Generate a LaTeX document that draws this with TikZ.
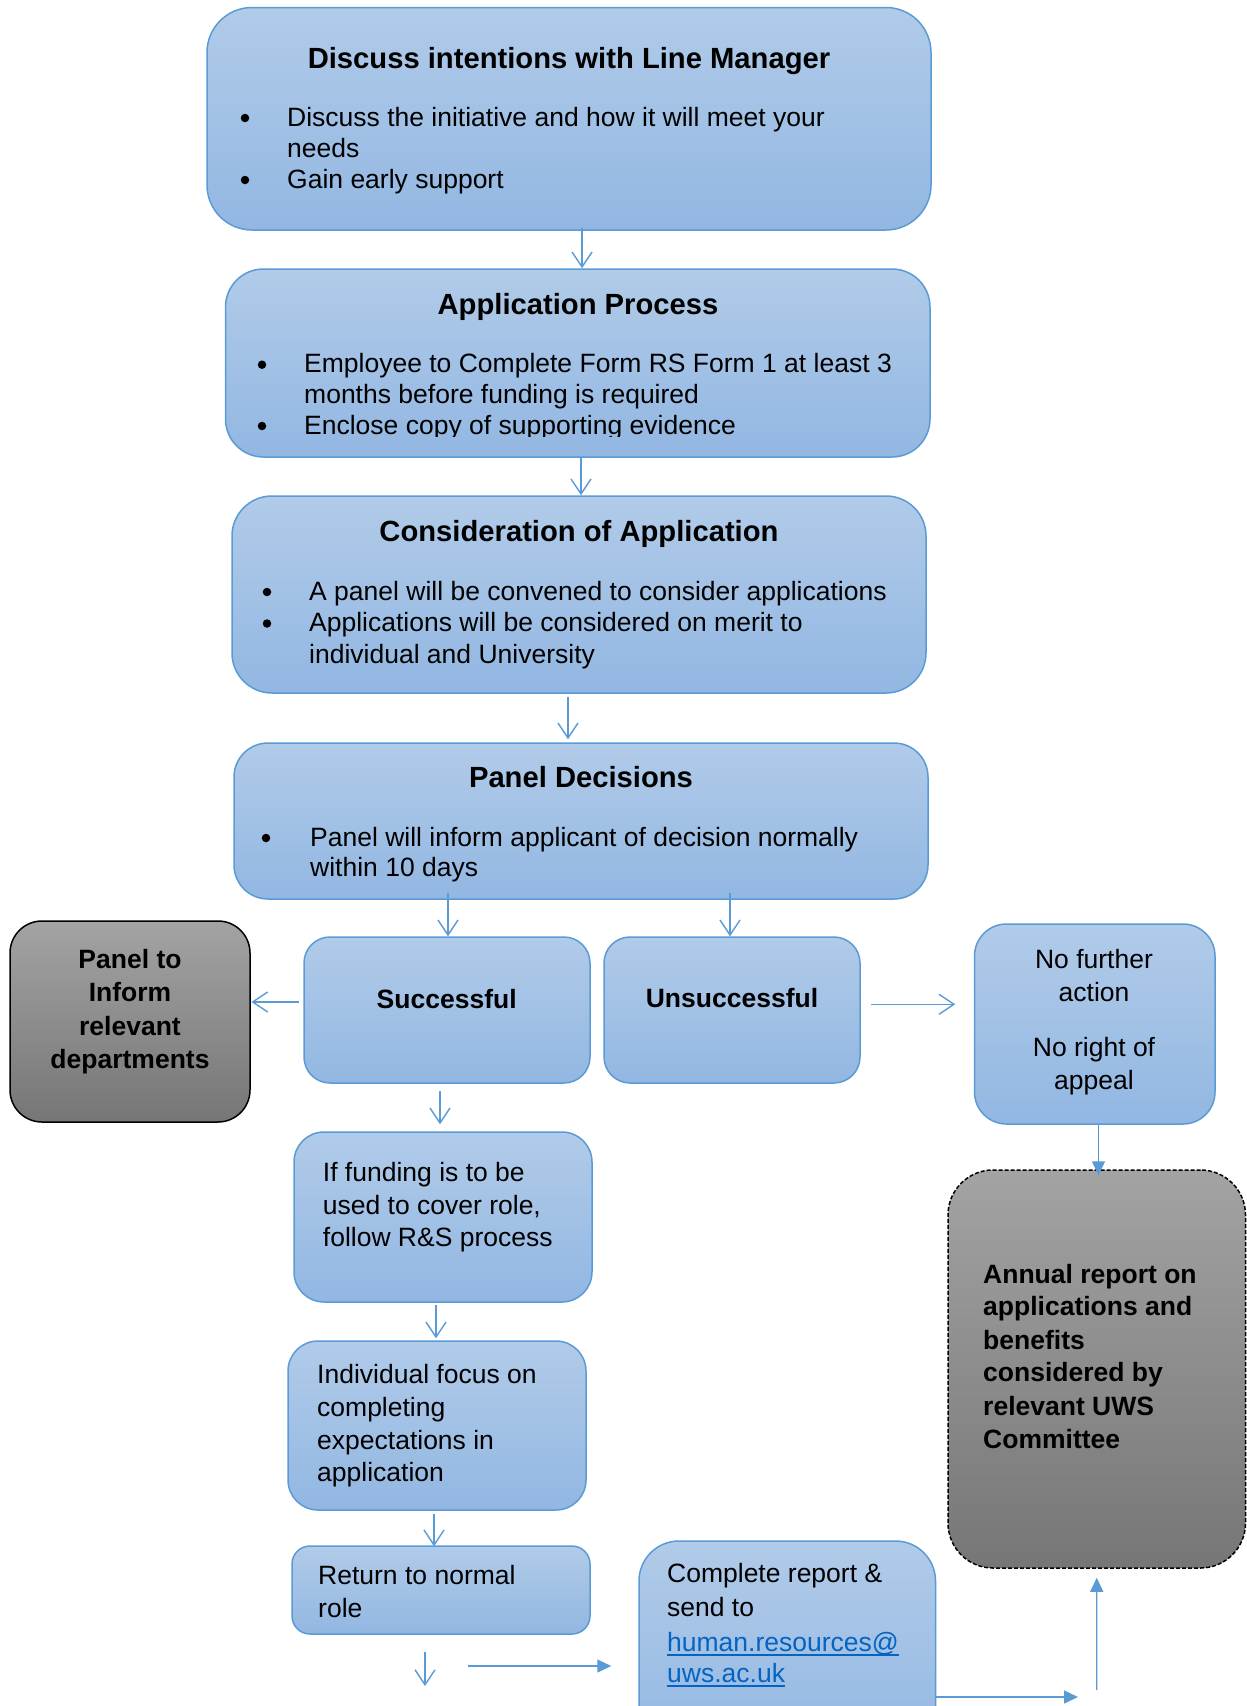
\documentclass[tikz,border=0pt]{standalone}
\usepackage{fontspec}
\setmainfont{Liberation Sans}
\usetikzlibrary{arrows.meta}
\definecolor{btop}{RGB}{177,203,233}
\definecolor{bbot}{RGB}{146,183,226}
\definecolor{boxline}{RGB}{91,155,213}
\definecolor{arrowc}{RGB}{91,155,213}
\definecolor{gtop}{RGB}{163,163,163}
\definecolor{gbot}{RGB}{118,118,118}
\definecolor{linkc}{RGB}{5,99,193}
\begin{document}
\begin{tikzpicture}[x=1pt,y=-1pt,
  box/.style={draw=boxline, line width=1.5pt, top color=btop, bottom color=bbot, rounded corners=#1, inner sep=0pt},
  box/.default=30pt,
  gbox/.style={draw=black, line width=1.5pt, top color=gtop, bottom color=gbot, rounded corners=#1, inner sep=0pt},
  txt/.style={inner sep=0pt, anchor=base west, font=\fontsize{26.5}{32}\selectfont},
  ctxt/.style={txt, anchor=base},
  btxt/.style={txt, font=\fontsize{26.5}{32}\selectfont\bfseries},
  cbtxt/.style={btxt, anchor=base},
  dot/.style={circle, fill=black, inner sep=0pt, minimum size=8.5pt},
  ttl/.style={inner sep=0pt, anchor=base, font=\fontsize{29.2}{35}\selectfont\bfseries},
  oarr/.style={draw=arrowc, line width=1.4pt, -{Straight Barb[length=15pt,width=20pt]}},
  farr/.style={draw=arrowc, line width=1.4pt, -{Triangle[length=14pt,width=13pt]}}
]
\useasboundingbox (0,0) rectangle (1247,1706);

% ---------- boxes ----------
\node[box=45pt, minimum width=724pt, minimum height=222.5pt] (b1) at (569,118.75) {};
\node[box=38pt, minimum width=704.5pt, minimum height=188pt] (b2) at (577.75,363) {};
\node[box=40pt, minimum width=694pt, minimum height=197pt] (b3) at (579,594.5) {};
\node[box=34pt, minimum width=694pt, minimum height=156pt] (b4) at (581,821) {};
\node[box=26pt, minimum width=286pt, minimum height=146pt] (succ) at (447,1010) {};
\node[box=26pt, minimum width=256pt, minimum height=146pt] (unsucc) at (732,1010) {};
\node[gbox=32pt, minimum width=240pt, minimum height=201pt] (inform) at (130,1021.5) {};
\node[box=32pt, minimum width=240.5pt, minimum height=200pt] (nofurther) at (1094.75,1024) {};
\node[gbox=45pt, dashed, dash pattern=on 4pt off 2pt, minimum width=297.5pt, minimum height=398pt] (annual) at (1096.75,1369) {};
\node[box=30pt, minimum width=298pt, minimum height=170pt] (funding) at (443,1217) {};
\node[box=30pt, minimum width=298pt, minimum height=169pt] (indiv) at (437,1425.5) {};
\node[box=18pt, minimum width=298pt, minimum height=88pt] (ret) at (441,1590) {};
\node[box=40pt, minimum width=296.5pt, minimum height=219pt] (complete) at (787.25,1650.5) {};

% ---------- texts ----------
\node[ttl] (t1) at (569,68.5) {Discuss intentions with Line Manager};
\node[dot] (t1d1) at (245,118) {};
\node[txt] (t1l1) at (287,126) {Discuss the initiative and how it will meet your};
\node[txt] (t1l2) at (287,157) {needs};
\node[dot] (t1d2) at (245,180) {};
\node[txt] (t1l3) at (287,188) {Gain early support};

\node[ttl] (t2) at (578,314) {Application Process};
\node[dot] (t2d1) at (262,364.7) {};
\node[txt] (t2l1) at (304,372.7) {Employee to Complete Form RS Form 1 at least 3};
\node[txt] (t2l2) at (304,403) {months before funding is required};
\node[dot] (t2d2) at (262,426) {};
\begin{scope}
\clip (226,270) rectangle (930,436);
\node[txt] (t2l3) at (304,434) {Enclose copy of supporting evidence};
\end{scope}

\node[ttl] (t3) at (579,541) {Consideration of Application};
\node[dot] (t3d1) at (267,592) {};
\node[txt] (t3l1) at (309,600) {A panel will be convened to consider applications};
\node[dot] (t3d2) at (267,623.5) {};
\node[txt] (t3l2) at (309,631.5) {Applications will be considered on merit to};
\node[txt] (t3l3) at (309,663) {individual and University};

\node[ttl] (t4) at (581,787) {Panel Decisions};
\node[dot] (t4d1) at (266,838) {};
\node[txt] (t4l1) at (310,846) {Panel will inform applicant of decision normally};
\node[txt] (t4l2) at (310,876.5) {within 10 days};

\node[cbtxt] (ts) at (446.7,1008) {Successful};
\node[cbtxt] (tu) at (732,1007.7) {Unsuccessful};

\node[cbtxt] (ti1) at (130,968) {Panel to};
\node[cbtxt] (ti2) at (130,1001.7) {Inform};
\node[cbtxt] (ti3) at (130,1035) {relevant};
\node[cbtxt] (ti4) at (130,1068) {departments};

\node[ctxt] (tn1) at (1094,968) {No further};
\node[ctxt] (tn2) at (1094,1001.7) {action};
\node[ctxt] (tn3) at (1094,1056.7) {No right of};
\node[ctxt] (tn4) at (1094,1089) {appeal};

\node[btxt] (ta1) at (983,1283) {Annual report on};
\node[btxt] (ta2) at (983,1315.7) {applications and};
\node[btxt] (ta3) at (983,1349) {benefits};
\node[btxt] (ta4) at (983,1381.7) {considered by};
\node[btxt] (ta5) at (983,1415) {relevant UWS};
\node[btxt] (ta6) at (983,1448) {Committee};

\node[txt] (tf1) at (322.7,1181) {If funding is to be};
\node[txt] (tf2) at (322.7,1214) {used to cover role,};
\node[txt] (tf3) at (322.7,1246.7) {follow R\&S process};

\node[txt] (tv1) at (317,1383) {Individual focus on};
\node[txt] (tv2) at (317,1416) {completing};
\node[txt] (tv3) at (317,1449) {expectations in};
\node[txt] (tv4) at (317,1481.7) {application};

\node[txt] (tr1) at (318,1584) {Return to normal};
\node[txt] (tr2) at (318,1617) {role};

\node[txt] (tc1) at (667,1582.7) {Complete report \&};
\node[txt] (tc2) at (667,1616.7) {send to};
\node[txt, text=linkc] (tc3) at (667,1651.7) {human.resources@};
\node[txt, text=linkc] (tc4) at (667,1682.7) {uws.ac.uk};
\draw[linkc, line width=2pt] ([yshift=-3pt]tc3.base west) -- ([yshift=-3pt]tc3.base east);
\draw[linkc, line width=2pt] ([yshift=-3pt]tc4.base west) -- ([yshift=-3pt]tc4.base east);

% ---------- connectors ----------
\coordinate (d1) at (425,1686);
\coordinate (h1) at (468,1666);
\coordinate (e1) at (1078,1697);
\coordinate (u1) at (1096.7,1690);

\draw[oarr] ([shift={(13pt,3pt)}]b1.south) -- ([xshift=4.25pt]b2.north);
\draw[oarr] ([xshift=3.25pt]b2.south) -- ([xshift=2pt]b3.north);
\draw[oarr] ([shift={(-11pt,-3pt)}]b3.south) -- ([shift={(-13pt,3pt)}]b4.north);
\draw[oarr] ([shift={(-133pt,7pt)}]b4.south) -- ([xshift=1pt]succ.north);
\draw[oarr] ([shift={(149pt,7pt)}]b4.south) -- ([xshift=-2pt]unsucc.north);
\draw[oarr] ([shift={(-4pt,8pt)}]succ.west) -- ([shift={(0.7pt,19.5pt)}]inform.east);
\draw[oarr] ([shift={(10.5pt,5.7pt)}]unsucc.east) -- ([shift={(-18.5pt,19.7pt)}]nofurther.west);
\draw[farr] ([xshift=3.75pt]nofurther.south) -- ([shift={(1.75pt,-6pt)}]annual.north);
\draw[oarr] ([shift={(-7pt,-7pt)}]succ.south) -- ([shift={(-3pt,7pt)}]funding.north);
\draw[oarr] ([shift={(-7pt,-2pt)}]funding.south) -- ([shift={(-1pt,2pt)}]indiv.north);
\draw[oarr] ([shift={(-3pt,-3pt)}]indiv.south) -- ([shift={(-7pt,-1pt)}]ret.north);
\draw[oarr] ([shift={(-16pt,-17pt)}]ret.south) -- (d1);
\draw[farr] (h1) -- ([shift={(-27pt,-15.5pt)}]complete.west);
\draw[farr] ([yshift=-46.5pt]complete.east) -- (e1);
\draw[farr] (u1) -- ([yshift=-9pt]annual.south);
\end{tikzpicture}
\end{document}
